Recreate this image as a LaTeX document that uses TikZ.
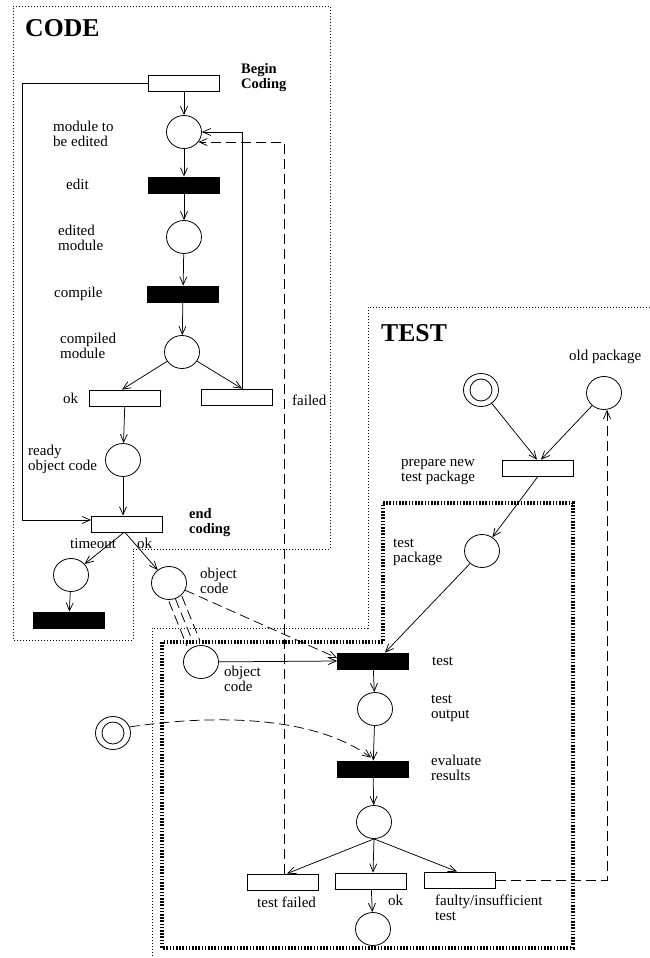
\documentclass[tikz,border=0pt]{standalone}
\usepackage{fontspec}
\setmainfont{Liberation Serif}
\usetikzlibrary{arrows.meta,shapes.geometric,calc}
\newcommand\lbst{\rule{0pt}{11pt}}
\begin{document}
\begin{tikzpicture}[x=1pt,y=-1pt,
  place/.style={draw,ellipse,fill=white,minimum width=35pt,minimum height=33pt,inner sep=0pt,line width=0.8pt},
  inring/.style={draw,circle,minimum size=22pt,inner sep=0pt,line width=0.8pt},
  trans/.style={draw,rectangle,fill=white,minimum width=71pt,minimum height=16pt,inner sep=0pt,line width=0.8pt},
  btrans/.style={trans,fill=black},
  arc/.style={-{Straight Barb[length=8pt,width=7pt]},line width=0.75pt},
  dashline/.style={dash pattern=on 10pt off 5pt,line width=0.8pt},
  thindot/.style={dash pattern=on 1pt off 2pt,line width=0.9pt},
  thickdot/.style={dash pattern=on 1.6pt off 1.6pt,line width=4pt},
  lbl/.style={font=\fontsize{15}{15}\selectfont,inner sep=0pt,anchor=north west,align=left},
  blbl/.style={font=\bfseries\fontsize{14.5}{15}\selectfont,inner sep=0pt,anchor=north west,align=left},
  title/.style={font=\bfseries\fontsize{25.7}{26}\selectfont,inner sep=0pt,anchor=base west}]
\useasboundingbox (0,0) rectangle (650,958);

% region boxes
\draw[thindot] (13,6) -- (330,6) -- (330,549) -- (133,549) -- (133,640) -- (13,640) -- cycle;
\draw[thindot] (650,307) -- (368,307) -- (368,628) -- (152,628) -- (152,958);
\draw[thickdot] (383,503) -- (573,503) -- (573,948) -- (162,948) -- (162,642) -- (383,642) -- cycle;

% titles
\node[title] (tcode) at (25,37) {CODE};
\node[title] (ttest) at (381,341) {TEST};

% places
\node[place] (mod) at (184,132) {};
\node[place] (edited) at (184,237) {};
\node[place] (compiled) at (182,352) {};
\node[place] (ready) at (123,460) {};
\node[place] (tout) at (71,575) {};
\node[place] (obj1) at (169,583) {};
\node[place] (dbl1) at (481,390) {};
\node[inring] (dbl1i) at (dbl1) {};
\node[place] (old) at (604,393) {};
\node[place] (pkg) at (482,551) {};
\node[place] (obj2) at (201,662) {};
\node[place] (out) at (375,709) {};
\node[place] (res) at (374,822) {};
\node[place] (fin) at (373,929) {};
\node[place] (dbl2) at (113,733) {};
\node[inring] (dbl2i) at (dbl2) {};

% transitions
\node[trans] (begin) at (184,83) {};
\node[btrans] (edit) at (184,185) {};
\node[btrans] (compile) at (183,294) {};
\node[trans] (ok1) at (125,398) {};
\node[trans] (fail) at (237,397) {};
\node[trans] (endc) at (127,524) {};
\node[btrans] (dead) at (69,620) {};
\node[trans] (prep) at (538,468) {};
\node[btrans] (test) at (373,661) {};
\node[btrans] (eval) at (373,769) {};
\node[trans] (tfail) at (283,882) {};
\node[trans] (tok) at (371,881) {};
\node[trans] (faulty) at (460,880) {};

% labels
\node[blbl] (lbegin) at (241,62) {\lbst Begin\\Coding};
\node[lbl] (lmod) at (53,120) {\lbst module to\\be edited};
\node[lbl] (ledit) at (66,178) {\lbst edit};
\node[lbl] (ledited) at (58,224) {\lbst edited\\module};
\node[lbl] (lcompile) at (54,286) {\lbst compile};
\node[lbl] (lcompiled) at (60,332) {\lbst compiled\\module};
\node[lbl] (lok1) at (63,392) {\lbst ok};
\node[lbl] (lfailed) at (292,394) {\lbst failed};
\node[lbl] (lready) at (28,444) {\lbst ready\\object code};
\node[blbl] (lendc) at (189,507) {\lbst end\\coding};
\node[lbl] (ltout) at (70,537) {\lbst timeout};
\node[lbl] (lok2) at (137,537) {\lbst ok};
\node[lbl] (lobj1) at (200,567) {\lbst object\\code};
\node[lbl] (lold) at (569,349) {\lbst old package};
\node[lbl] (lprep) at (401,455) {\lbst prepare new\\test package};
\node[lbl] (lpkg) at (393,536) {\lbst test\\package};
\node[lbl] (lobj2) at (224,665) {\lbst object\\code};
\node[lbl] (ltest) at (432,654) {\lbst test};
\node[lbl] (lout) at (431,692) {\lbst test\\output};
\node[lbl] (leval) at (431,754) {\lbst evaluate\\results};
\node[lbl] (ltfail) at (257,896) {\lbst test failed};
\node[lbl] (ltok) at (388,894) {\lbst ok};
\node[lbl] (lfaulty) at (435,894) {\lbst faulty/insufficient\\test};

% CODE arcs
\draw[arc] (begin) -- (mod);
\draw[arc] (mod) -- (edit);
\draw[arc] (edit) -- (edited);
\draw[arc] (edited) -- (compile);
\draw[arc] (compile) -- (compiled);
\draw[arc] (compiled) -- ([xshift=-3pt]ok1.north);
\draw[arc] (compiled) -- ([xshift=5pt]fail.north);
\draw[arc] ([xshift=5pt]fail.north) |- (mod.east);
\draw[arc] (ok1) -- (ready);
\draw[arc] (ready) -- (ready |- endc.north);
\coordinate (lc) at (22,520);
\draw[arc] (begin.west) -| (lc) -- (lc -| endc.west);
\draw[arc] ([xshift=-3pt]endc.south) -- (tout);
\draw[arc] ([xshift=-2pt]endc.south) -- (obj1);
\draw[arc] (tout) -- (dead);

% links between regions
\draw[dashline,arc] (obj1) -- ([yshift=3pt]test.west);
\draw[dashline] ($(obj1)!17pt!(obj2)$) -- ($(obj2)!20pt!(obj1)$);
\draw[dashline] ($(obj1)!17pt!(obj2)!7pt!90:(obj2)$) -- ($(obj2)!20pt!(obj1)!7pt!-90:(obj1)$);
\draw[dashline] ($(obj1)!17pt!(obj2)!7pt!-90:(obj2)$) -- ($(obj2)!20pt!(obj1)!7pt!90:(obj1)$);
\draw[dashline,arc] ([xshift=1pt]tfail.north) |- (mod.-35);
\draw[dashline,arc] (faulty.east) -| ([xshift=3pt]old.south);
\draw[dashline,arc] (dbl2.20) .. controls (230,712) and (320,720) .. ([xshift=-2pt,yshift=3pt]eval.north);

% TEST arcs
\draw[arc] (dbl1) -- ([xshift=-1pt]prep.north);
\draw[arc] (old) -- ([xshift=3pt]prep.north);
\draw[arc] (prep.south) -- (pkg);
\draw[arc] (pkg) -- ([xshift=12pt]test.north);
\draw[arc] (obj2) -- (test.west);
\draw[arc] (test) -- (out);
\draw[arc] (out) -- (eval);
\draw[arc] (eval) -- (res);
\draw[arc] (res.south) -- ([xshift=4pt]tfail.north);
\draw[arc] (res.south) -- ([xshift=2pt]tok.north);
\draw[arc] (res.south) -- ([xshift=-3pt]faulty.north);
\draw[arc] (tok) -- (fin);
\end{tikzpicture}
\end{document}
